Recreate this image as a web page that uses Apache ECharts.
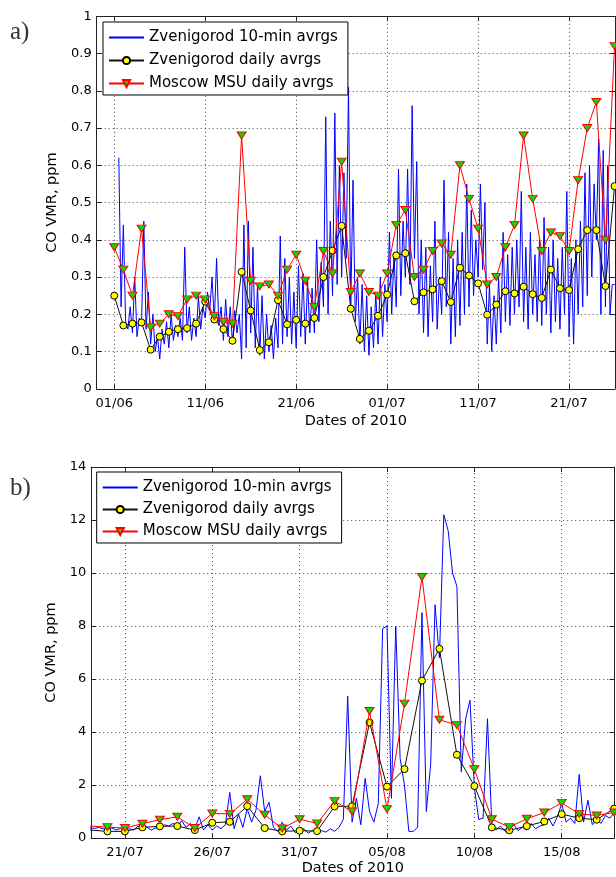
<!DOCTYPE html>
<html><head><meta charset="utf-8">
<script src="https://cdn.jsdelivr.net/npm/echarts@6/dist/echarts.min.js"></script>
<style>html,body{margin:0;padding:0;background:#fff;}#c{width:616px;height:877px;}</style>
</head><body><div id="c"></div>
<script>
// ---------------- Panel a (days counted from 01/06/2010) ----------------
const tickDaysA = [0, 10, 20, 30, 40, 50];
const tickLabelsA = ['01/06', '11/06', '21/06', '01/07', '11/07', '21/07'];
const dailyStartA = 0;   // first daily value = 01/06
const zvenDailyA = [0.25,0.17,0.175,0.178,0.105,0.14,0.153,0.16,0.163,0.175,
  0.234,0.186,0.16,0.129,0.314,0.21,0.104,0.125,0.238,0.173,
  0.185,0.175,0.19,0.30,0.371,0.4375,0.215,0.134,0.156,0.196,
  0.253,0.358,0.364,0.235,0.259,0.267,0.289,0.233,0.325,0.304,
  0.283,0.199,0.226,0.262,0.256,0.274,0.254,0.244,0.32,0.27,
  0.265,0.375,0.426,0.426,0.276,0.544];
const moscowDailyA = [0.38,0.32,0.25,0.43,0.165,0.175,0.20,0.195,0.24,0.25,
  0.24,0.195,0.18,0.175,0.68,0.29,0.275,0.28,0.25,0.32,
  0.36,0.29,0.22,0.37,0.31,0.61,0.26,0.31,0.26,0.25,
  0.31,0.44,0.48,0.30,0.32,0.37,0.39,0.36,0.60,0.51,
  0.43,0.28,0.30,0.38,0.44,0.68,0.51,0.37,0.42,0.41,
  0.37,0.56,0.70,0.77,0.40,0.92];
const tenMinStartA = 0.5, tenMinStepA = 0.25;
const zvenTenMinA = [0.62,0.22,
  0.44,0.18,0.16,0.22, 0.15,0.30,0.14,0.19, 0.17,0.45,0.16,0.26, 0.12,0.20,0.10,0.14,
  0.08,0.16,0.12,0.18, 0.11,0.20,0.13,0.17, 0.14,0.19,0.13,0.38, 0.15,0.22,0.13,0.19,
  0.14,0.25,0.16,0.22, 0.19,0.26,0.21,0.30, 0.18,0.35,0.17,0.22, 0.13,0.24,0.14,0.22,
  0.12,0.21,0.15,0.20, 0.08,0.44,0.11,0.45, 0.15,0.38,0.11,0.28, 0.09,0.25,0.08,0.20,
  0.10,0.17,0.08,0.19, 0.11,0.41,0.12,0.35, 0.14,0.30,0.12,0.26, 0.11,0.33,0.14,0.31,
  0.12,0.29,0.15,0.27, 0.15,0.40,0.18,0.34, 0.22,0.73,0.20,0.45, 0.25,0.74,0.28,0.60,
  0.30,0.58,0.35,0.81, 0.22,0.56,0.18,0.30, 0.12,0.28,0.10,0.25, 0.09,0.22,0.11,0.26,
  0.12,0.30,0.14,0.28, 0.18,0.42,0.20,0.36, 0.22,0.59,0.25,0.45, 0.30,0.59,0.28,0.76,
  0.35,0.61,0.20,0.40, 0.15,0.38,0.14,0.33, 0.18,0.45,0.16,0.30, 0.20,0.56,0.22,0.42,
  0.12,0.35,0.14,0.40, 0.17,0.42,0.20,0.55, 0.22,0.48,0.25,0.40, 0.30,0.55,0.32,0.50,
  0.12,0.28,0.10,0.25, 0.12,0.30,0.15,0.42, 0.18,0.36,0.17,0.38, 0.20,0.40,0.22,0.53,
  0.18,0.38,0.16,0.42, 0.20,0.36,0.18,0.40, 0.17,0.46,0.20,0.38, 0.15,0.40,0.18,0.35,
  0.16,0.38,0.20,0.53, 0.14,0.35,0.12,0.40, 0.20,0.45,0.22,0.58, 0.25,0.60,0.30,0.55,
  0.40,0.67,0.20,0.64, 0.22,0.60,0.20,0.28,
  0.28];

// ---------------- Panel b (days counted from 21/07/2010) ----------------
const tickDaysB = [0, 5, 10, 15, 20, 25];
const tickLabelsB = ['21/07', '26/07', '31/07', '05/08', '10/08', '15/08'];
const dailyStartB = -2;  // first daily value = 19/07
const zvenDailyB = [0.30,0.25,0.25,0.40,0.44,0.45,0.30,0.575,0.61,1.20,0.375,
  0.25,0.275,0.26,1.19,1.20,4.36,1.94,2.60,5.94,7.14,
  3.14,1.96,0.40,0.29,0.45,0.625,0.90,0.75,0.69,1.11];
const moscowDailyB = [0.45,0.41,0.375,0.54,0.69,0.80,0.375,0.925,0.91,1.46,0.875,
  0.36,0.71,0.55,1.39,1.00,4.79,1.09,5.07,9.85,4.46,
  4.26,2.60,0.71,0.41,0.725,0.96,1.325,0.91,0.85,0.96];
const tenMinStartB = -2, tenMinStepB = 0.25;
const zvenTenMinB = [
  0.38,0.36,0.40,0.35, 0.33,0.38,0.30,0.36, 0.28,0.35,0.30,0.45, 0.32,0.42,0.30,0.38,
  0.35,0.50,0.45,0.55, 0.42,0.65,0.40,0.55, 0.35,0.80,0.30,0.50, 0.30,0.45,0.35,0.50,
  1.72,0.35,0.90,0.40, 1.10,0.60,1.05,2.35, 1.00,1.35,0.40,0.25, 0.60,0.30,0.45,0.20,
  0.25,0.35,0.18,0.30, 0.20,0.28,0.22,0.35, 0.25,0.40,0.70,5.35, 0.60,1.50,0.50,2.25,
  1.00,0.60,1.30,7.90, 8.00,1.50,8.00,3.00, 2.00,0.25,0.25,0.40, 8.50,1.00,2.80,8.80,
  6.80,12.20,11.60,10.00, 9.50,2.50,4.50,5.20, 1.90,0.70,0.75,4.50, 0.50,0.30,0.45,0.25,
  0.35,0.50,0.28,0.40, 0.30,0.55,0.35,0.45, 0.50,0.75,0.45,0.80, 1.30,0.60,0.75,0.55,
  2.40,0.60,1.42,0.50, 0.70,0.55,0.85,0.75,
  0.95];

const seriesNames = ['Zvenigorod 10-min avrgs', 'Zvenigorod daily avrgs', 'Moscow MSU daily avrgs'];
const yTitle = 'CO VMR, ppm';
const xTitle = 'Dates of 2010';

// ---------------- build ----------------
const FONT = 'DejaVu Sans';
const daily = (arr, start) => arr.map((v, i) => [start + i, v]);
const tenMin = (arr, start, step) => arr.map((v, i) => [start + i * step, v]);

const grids = [
  {left: 96.7, top: 16.3, width: 518.3, height: 372.5},
  {left: 91.2, top: 467, width: 523.3, height: 372.5}
];
const gridLineStyle = {color: '#444', type: [1, 3], width: 1};
const axisLine = {show: true, onZero: false, lineStyle: {color: '#222', width: 1}};

function xAxes(gi, min, max, ticks, labels, nameGap) {
  const fmt = v => { const i = ticks.indexOf(Math.round(v)); return i >= 0 ? labels[i] : ''; };
  return [
    {type: 'value', gridIndex: gi, min, max, position: 'bottom',
     name: xTitle, nameLocation: 'middle', nameGap,
     nameTextStyle: {fontFamily: FONT, fontSize: 14.5, color: '#000'},
     axisLine, axisTick: {show: true, inside: true, length: 5, customValues: ticks, lineStyle: {color: '#222'}},
     axisLabel: {customValues: ticks, formatter: fmt, margin: 8, fontFamily: FONT, fontSize: 13, color: '#000'},
     splitLine: {show: false}},
    {type: 'value', gridIndex: gi, min, max, position: 'top',
     axisLine, axisTick: {show: true, inside: true, length: 5, customValues: ticks, lineStyle: {color: '#222'}},
     axisLabel: {show: false}, splitLine: {show: false}}
  ];
}
function yAxes(gi, max, interval, nameGap) {
  return [
    {type: 'value', gridIndex: gi, min: 0, max, interval, position: 'left',
     name: yTitle, nameLocation: 'middle', nameGap,
     nameTextStyle: {fontFamily: FONT, fontSize: 14.5, color: '#000'},
     axisLine, axisTick: {show: true, inside: true, length: 5, lineStyle: {color: '#222'}},
     axisLabel: {margin: 5, fontFamily: FONT, fontSize: 13, color: '#000'},
     splitLine: {show: true, lineStyle: gridLineStyle}},
    {type: 'value', gridIndex: gi, min: 0, max, interval, position: 'right',
     axisLine, axisTick: {show: true, inside: true, length: 5, lineStyle: {color: '#222'}},
     axisLabel: {show: false}, splitLine: {show: false}}
  ];
}
function panelSeries(xi, yi, ticks, tenMinData, zvenData, moscowData) {
  return [
    // vertical dotted grid lines at the labelled date ticks
    {type: 'line', xAxisIndex: xi, yAxisIndex: yi, data: [], silent: true, z: 1,
     markLine: {silent: true, symbol: 'none', animation: false, z: 1,
       label: {show: false}, lineStyle: gridLineStyle,
       data: ticks.map(t => ({xAxis: t}))}},
    {name: seriesNames[0], type: 'line', xAxisIndex: xi, yAxisIndex: yi, data: tenMinData,
     symbol: 'none', clip: true, lineStyle: {color: '#0000ff', width: 1}, itemStyle: {color: '#0000ff'},
     animation: false, z: 2},
    {name: seriesNames[1], type: 'line', xAxisIndex: xi, yAxisIndex: yi, data: zvenData,
     symbol: 'circle', symbolSize: 7, showAllSymbol: true, clip: true,
     lineStyle: {color: '#111', width: 1},
     itemStyle: {color: '#ffff00', borderColor: '#000', borderWidth: 1},
     animation: false, z: 3},
    {name: seriesNames[2], type: 'line', xAxisIndex: xi, yAxisIndex: yi, data: moscowData,
     symbol: 'triangle', symbolRotate: 180, symbolSize: [9, 7], showAllSymbol: true, clip: true,
     lineStyle: {color: '#ff0000', width: 1},
     itemStyle: {color: '#00e000', borderColor: '#ff0000', borderWidth: 1},
     animation: false, z: 4}
  ];
}
function legendAt(left, top, gap) {
  return {
    left, top, orient: 'vertical', selectedMode: false,
    data: [{name: seriesNames[0], itemStyle: {opacity: 0}},
           {name: seriesNames[1]},
           {name: seriesNames[2], iconRotate: 180}],
    backgroundColor: '#fff', borderColor: '#000', borderWidth: 1, borderRadius: 0,
    padding: [8, 10, 4, 5], itemGap: gap, itemWidth: 35, itemHeight: 9,
    textStyle: {fontFamily: FONT, fontSize: 15, color: '#000'}
  };
}

const chart = echarts.init(document.getElementById('c'), null, {renderer: 'canvas'});
chart.setOption({
  animation: false,
  backgroundColor: '#fff',
  grid: grids,
  xAxis: [...xAxes(0, -1.93, 55.05, tickDaysA, tickLabelsA, 25),
          ...xAxes(1, -1.93, 28.02, tickDaysB, tickLabelsB, 23)],
  yAxis: [...yAxes(0, 1, 0.1, 27), ...yAxes(1, 14, 2, 24)],
  legend: [legendAt(103, 22, 8), legendAt(96.7, 472, 7)],
  series: [
    ...panelSeries(0, 0, tickDaysA, tenMin(zvenTenMinA, tenMinStartA, tenMinStepA), daily(zvenDailyA, dailyStartA), daily(moscowDailyA, dailyStartA)),
    ...panelSeries(2, 2, tickDaysB, tenMin(zvenTenMinB, tenMinStartB, tenMinStepB), daily(zvenDailyB, dailyStartB), daily(moscowDailyB, dailyStartB))
  ],
  graphic: [
    {type: 'text', left: 10, top: 20, style: {text: 'a)', font: '25px "Liberation Serif"', fill: '#333'}},
    {type: 'text', left: 10, top: 476, style: {text: 'b)', font: '25px "Liberation Serif"', fill: '#333'}}
  ]
});
</script>
</body></html>
